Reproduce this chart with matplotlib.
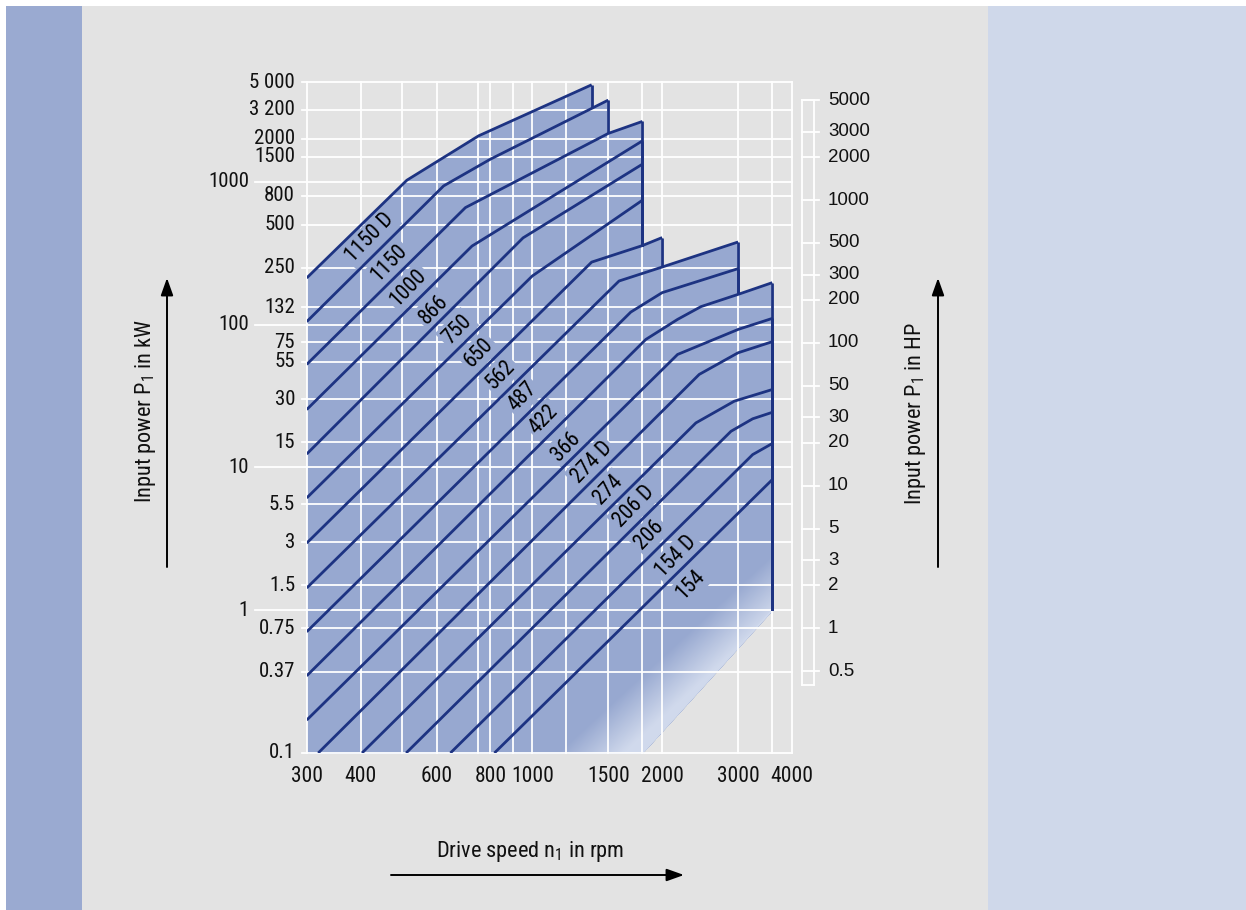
import numpy as np
import matplotlib
matplotlib.use('Agg')
import matplotlib.pyplot as plt
from matplotlib.patches import Rectangle, FancyArrowPatch
from matplotlib import font_manager
from matplotlib.colors import to_rgb

# ---------------- data ----------------
sizes = ['1150 D', '1150', '1000', '866', '750', '650', '562', '487', '422',
         '366', '274 D', '274', '206 D', '206', '154 D', '154']

n_1150D = [300, 512, 751, 1373];            p_1150D = [212, 1026, 2099, 4780]
n_1150 = [300, 623, 800, 1500];             p_1150 = [104.8, 936, 1441, 3734]
n_1000 = [300, 700, 1500, 1800];            p_1000 = [52.6, 660, 2181, 2648]
n_866 = [300, 725, 1800];                   p_866 = [25.4, 355, 1935]
n_750 = [300, 952, 1800];                   p_750 = [12.4, 405, 1329]
n_650 = [300, 1000, 1800];                  p_650 = [6.11, 219, 743]
n_562 = [300, 1373, 1800, 2000];            p_562 = [2.95, 274, 357.6, 407]
n_487 = [300, 1589, 2000, 3000];            p_487 = [1.43, 202, 253, 379]
n_422 = [300, 1692, 2000, 3000];            p_422 = [0.706, 122.4, 167.4, 246.6]
n_366 = [300, 1833, 2172, 2460, 3000, 3600]; p_366 = [0.347, 78.7, 108.8, 133.6, 162.8, 196.7]
n_274D = [300, 2172, 3000, 3600];           p_274D = [0.170, 61.8, 92.5, 110.5]
n_274 = [319, 2438, 3000, 3600];            p_274 = [0.1, 44.8, 63.5, 75.9]
n_206D = [403, 2395, 2940, 3600];           p_206D = [0.1, 20.5, 29.1, 35.1]
n_206 = [510, 2888, 3243, 3600];            p_206 = [0.1, 17.9, 21.9, 24.3]
n_154D = [646, 3243, 3600];                 p_154D = [0.1, 12.3, 14.7]
n_154 = [817, 3600];                        p_154 = [0.1, 8.21]

# lower-right boundary of the shaded field
n_edge = [1800, 3600]
p_edge = [0.1, 1.0]

# label anchor points (speed rpm, power kW)
label_n = [421, 466, 517, 590, 669, 751, 844, 948, 1064, 1195, 1373, 1500, 1721, 1866, 2152, 2332]
label_p = [407, 268.7, 181.4, 127.9, 92.5, 63.5, 44.8, 31.5, 21.6, 14.06, 10.75, 6.99, 5.34, 3.38, 2.38, 1.51]

kw_ticks = [5000, 3200, 2000, 1500, 1000, 800, 500, 250, 132, 100, 75, 55, 30, 15, 10,
            5.5, 3, 1.5, 1, 0.75, 0.37, 0.1]
kw_labels = ['5 000', '3 200', '2000', '1500', '1000', '800', '500', '250', '132', '100', '75',
             '55', '30', '15', '10', '5.5', '3', '1.5', '1', '0.75', '0.37', '0.1']
kw_decades = [1000, 100, 10, 1]
rpm_ticks = [300, 400, 600, 800, 1000, 1500, 2000, 3000, 4000]
rpm_grid = [300, 400, 500, 600, 750, 800, 900, 1000, 1200, 1500, 1800, 2000, 3000, 3600, 4000]
hp_ticks = [5000, 3000, 2000, 1000, 500, 300, 200, 100, 50, 30, 20, 10, 5, 3, 2, 1, 0.5]
hp_strip = [0.4, 5000]
KW_PER_HP = 0.7457

lines = [(n_1150D, p_1150D), (n_1150, p_1150), (n_1000, p_1000), (n_866, p_866),
         (n_750, p_750), (n_650, p_650), (n_562, p_562), (n_487, p_487),
         (n_422, p_422), (n_366, p_366), (n_274D, p_274D), (n_274, p_274),
         (n_206D, p_206D), (n_206, p_206), (n_154D, p_154D), (n_154, p_154)]

# ---------------- style ----------------
names = {f.name for f in font_manager.fontManager.ttflist}
COND = next((c for c in ['Roboto Condensed', 'Archivo Narrow', 'Liberation Sans Narrow']
             if c in names), 'DejaVu Sans')
REG = 'Liberation Sans'
plt.rcParams['font.family'] = [COND, 'DejaVu Sans']
plt.rcParams['mathtext.default'] = 'regular'

FILL = '#97a8d0'
LIGHT = '#d0d9ec'
LINE = '#1d3382'
GRAY = '#e3e3e3'
TXT = '#111111'

W, H = 1246, 910
fig = plt.figure(figsize=(W / 100, H / 100), dpi=100)
fig.patch.set_facecolor('white')

def fx(px):
    return px / W

def fy(py):
    return 1 - py / H

bg = fig.add_axes([0, 0, 1, 1], zorder=-5)
bg.set_axis_off()
bg.set_xlim(0, W)
bg.set_ylim(H, 0)
for x0, x1, c in [(6, 82, '#9aaad1'), (82, 988, GRAY), (988, 1246, '#cfd8ea')]:
    bg.add_patch(Rectangle((x0, 6), x1 - x0, 904, color=c, lw=0))

ax = fig.add_axes([fx(306.7), fy(753), (792 - 306.7) / W, (753 - 82) / H], zorder=2)
ax.set_xscale('log')
ax.set_yscale('log')
ax.set_autoscale_on(False)
ax.set_xlim(300, 4000)
ax.set_ylim(0.1, 5000)
ax.set_axis_off()


def loginterp(n, ns, ps):
    return 10 ** np.interp(np.log10(n), np.log10(ns), np.log10(ps))


def lower(n):
    return np.maximum(0.1, loginterp(n, n_edge, p_edge))


# shaded field
clip_coll = None
for i, (ns, ps) in enumerate(lines):
    ng = np.unique(np.concatenate([np.geomspace(ns[0], ns[-1], 500), ns,
                                   [v for v in n_edge if ns[0] <= v <= ns[-1]]]))
    up = loginterp(ng, ns, ps)
    lo = lower(ng)
    coll = ax.fill_between(ng, lo, up, where=up >= lo, color=FILL, lw=0, zorder=1)
    if sizes[i] == '366':
        clip_coll = coll

# light sheen at lower right
nxp, nyp = 486, 671
X, Y = np.meshgrid(np.arange(nxp) + 0.5, np.arange(nyp) + 0.5)
d = ((X - 283.3) * 143 - Y * 155) / np.hypot(143, 155)
a = np.clip((d + 22) / 44, 0, 1)
rgba = np.zeros((nyp, nxp, 4))
rgba[..., :3] = to_rgb(LIGHT)
rgba[..., 3] = a
im = ax.imshow(rgba, extent=[0, 1, 0, 1], transform=ax.transAxes, origin='lower',
               aspect='auto', zorder=1.5, interpolation='bilinear')
im.set_clip_path(clip_coll.get_paths()[0], ax.transData)
ax.set_xlim(300, 4000)
ax.set_ylim(0.1, 5000)
# soften the antialiased edge along the diagonal boundary
ax.plot(n_edge, p_edge, color=LIGHT, lw=1.3, zorder=1.6, solid_capstyle='butt')

# grid
for v in rpm_grid:
    ax.plot([v, v], [0.1, 5000], color='white', lw=1.3, zorder=2, clip_on=False)
ytr = ax.get_yaxis_transform()
xtr = ax.get_xaxis_transform()
for t in kw_ticks:
    x0 = -0.1065 if t in kw_decades else -0.0097
    ax.plot([x0, 1.0], [t, t], color='white', lw=1.3, zorder=2, clip_on=False, transform=ytr)

# curves and vertical drops
for i, (ns, ps) in enumerate(lines):
    ax.plot(ns, ps, color=LINE, lw=2.0, zorder=4, solid_capstyle='butt')
    ne, pe = ns[-1], ps[-1]
    cands = [loginterp(ne, nj, pj) for (nj, pj) in lines if nj[-1] > ne and nj[0] <= ne]
    target = max(cands) if cands else float(lower(ne))
    ax.plot([ne, ne], [pe, target], color=LINE, lw=2.0, zorder=4, solid_capstyle='butt')

# size labels
for s, n, p in zip(sizes, label_n, label_p):
    ax.text(n, p, s, rotation=46, rotation_mode='anchor', ha='center', va='center',
            fontsize=15.5, color='black', zorder=3,
            bbox=dict(boxstyle='square,pad=0.12', fc=FILL, ec='none'))

# kW tick labels
for t, lab in zip(kw_ticks, kw_labels):
    x = -0.1189 if t in kw_decades else -0.0241
    ax.text(x, t, lab, transform=ytr, ha='right', va='center', fontsize=15, color=TXT)

# rpm tick labels
for v in rpm_ticks:
    ax.text(v, -0.035, str(v), transform=xtr, ha='center', va='center', fontsize=15.5,
            color=TXT)

# HP strip
hp_lo, hp_hi = hp_strip[0] * KW_PER_HP, hp_strip[1] * KW_PER_HP
for xa in (1.0206, 1.0453):
    ax.plot([xa, xa], [hp_lo, hp_hi], color='white', lw=1.3, transform=ytr, clip_on=False)
for yv in (hp_lo, hp_hi):
    ax.plot([1.0206, 1.0453], [yv, yv], color='white', lw=1.3, transform=ytr, clip_on=False)
for h in hp_ticks:
    k = h * KW_PER_HP
    ax.plot([1.0206, 1.0556], [k, k], color='white', lw=1.3, transform=ytr, clip_on=False)
    ax.text(1.0741, k, f'{h:g}', transform=ytr, ha='left', va='center', fontsize=13.5,
            family=[REG, 'DejaVu Sans'], color=TXT)

# axis titles and arrows
fig.text(fx(145), fy(411), 'Input power P$_1$ in kW', rotation=90, ha='center', va='center',
         fontsize=16, color=TXT)
fig.text(fx(915), fy(414), 'Input power P$_1$ in HP', rotation=90, ha='center', va='center',
         fontsize=16, color=TXT)
fig.text(fx(530), fy(852), 'Drive speed n$_1$ in rpm', ha='center', va='center', fontsize=16,
         color=TXT)

for (xa, ya), (xb, yb) in [((167, 567), (167, 278)), ((938, 567), (938, 278)),
                           ((391, 875), (684, 875))]:
    arr = FancyArrowPatch((fx(xa), fy(ya)), (fx(xb), fy(yb)), transform=fig.transFigure,
                          arrowstyle='-|>,head_length=0.7,head_width=0.25', mutation_scale=15,
                          lw=1.4, color='black', shrinkA=0, shrinkB=0)
    fig.add_artist(arr)

fig.savefig('out.png', dpi=100, facecolor=fig.get_facecolor())
